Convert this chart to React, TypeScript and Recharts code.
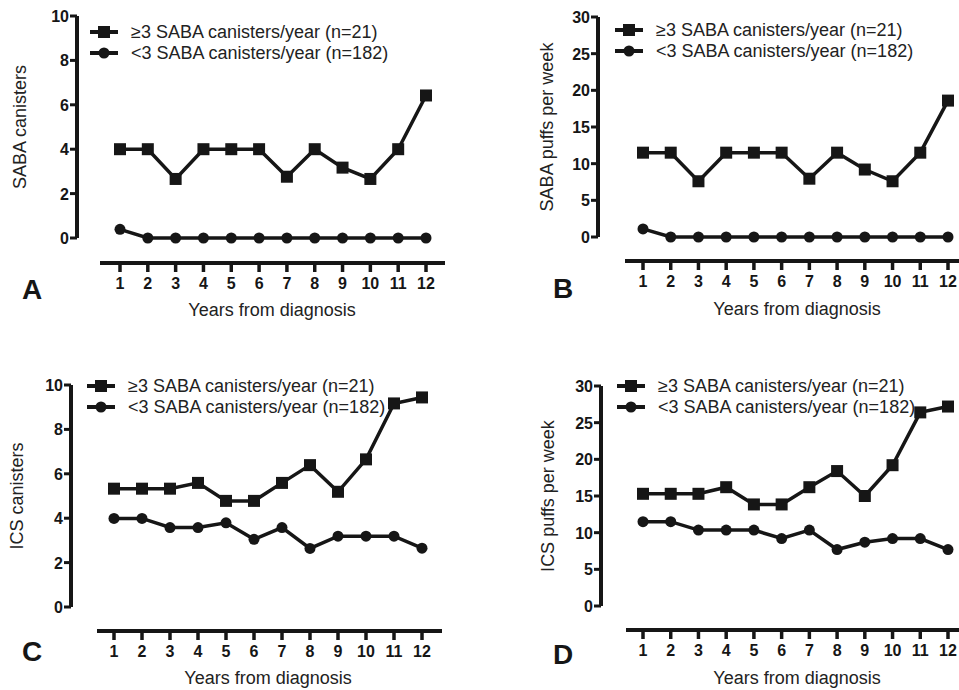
import React from 'react';
import { LineChart, Line, XAxis, YAxis, ReferenceLine } from 'recharts';

// years from diagnosis
const years = [1, 2, 3, 4, 5, 6, 7, 8, 9, 10, 11, 12];

// A: SABA canisters
const sabaCanHigh = [4, 4, 2.66, 4, 4, 4, 2.76, 4, 3.17, 2.66, 4, 6.42];
const sabaCanLow = [0.39, 0, 0, 0, 0, 0, 0, 0, 0, 0, 0, 0];

// B: SABA puffs per week
const sabaPuffHigh = [11.5, 11.5, 7.6, 11.5, 11.5, 11.5, 7.95, 11.5, 9.2, 7.6, 11.5, 18.6];
const sabaPuffLow = [1.1, 0, 0, 0, 0, 0, 0, 0, 0, 0, 0, 0];

// C: ICS canisters
const icsCanHigh = [5.33, 5.33, 5.33, 5.59, 4.78, 4.78, 5.59, 6.39, 5.19, 6.65, 9.17, 9.44];
const icsCanLow = [3.99, 3.99, 3.58, 3.58, 3.79, 3.05, 3.58, 2.64, 3.19, 3.19, 3.19, 2.65];

// D: ICS puffs per week
const icsPuffHigh = [15.3, 15.3, 15.3, 16.2, 13.85, 13.85, 16.2, 18.4, 15.0, 19.2, 26.4, 27.2];
const icsPuffLow = [11.5, 11.5, 10.35, 10.35, 10.35, 9.2, 10.35, 7.7, 8.7, 9.2, 9.2, 7.7];

const legendHigh = '≥3 SABA canisters/year (n=21)';
const legendLow = '<3 SABA canisters/year (n=182)';

const INK = '#161616';
const FONT = '"Liberation Sans", Arial, Helvetica, sans-serif';

interface Geo {
  left: number;
  top: number;
  width: number;
  height: number;
  axisX: number;
  yTop: number;
  y0: number;
  yMax: number;
  yStep: number;
  xAxisY: number;
  xLineStart: number;
  xLineEnd: number;
  tick1: number;
  tick12: number;
}

interface PanelProps {
  geo: Geo;
  high: number[];
  low: number[];
}

const SquareDot = (props: any) => {
  const { cx, cy, index } = props;
  if (cx == null || cy == null) return null;
  return <rect key={index} x={cx - 6} y={cy - 6} width={12} height={12} fill={INK} />;
};

const YTick = (props: any) => {
  const { x, y, payload } = props;
  return (
    <g>
      <line x1={x - 7} y1={y} x2={x} y2={y} stroke={INK} strokeWidth={3} />
      <text x={x - 8} y={y} dy={6} textAnchor="end" fontSize={16} fontWeight={700} fill={INK} fontFamily={FONT}>
        {payload.value}
      </text>
    </g>
  );
};

const XTick = (props: any) => {
  const { x, y, payload } = props;
  return (
    <g>
      <line x1={x} y1={y} x2={x} y2={y + 9} stroke={INK} strokeWidth={3.5} />
      <text x={x} y={y + 26} textAnchor="middle" fontSize={16} fontWeight={700} fill={INK} fontFamily={FONT}>
        {payload.value}
      </text>
    </g>
  );
};

const AxisLine = (props: any) => (
  <line x1={props.x1} y1={props.y1} x2={props.x2} y2={props.y2} stroke={INK} strokeWidth={4} />
);

// GraphPad-style detached axes: y line runs 0..max, x line sits below 0
const Panel: React.FC<PanelProps> = ({ geo, high, low }) => {
  const data = years.map((y, i) => ({ year: y, high: high[i], low: low[i] }));
  const xAxisH = 40;

  const xUnit = (geo.tick12 - geo.tick1) / 11;
  const toX = (px: number) => 1 + (px - geo.tick1) / xUnit;
  const xMin = toX(geo.axisX);
  const xMax = toX(geo.xLineEnd);
  const xStart = toX(geo.xLineStart);

  const yUnit = (geo.y0 - geo.yTop) / geo.yMax;
  const yMin = -(geo.xAxisY - geo.y0) / yUnit;

  const yTicks: number[] = [];
  for (let v = 0; v <= geo.yMax; v += geo.yStep) yTicks.push(v);

  const margin = {
    top: geo.yTop - geo.top,
    left: 0,
    right: geo.left + geo.width - geo.xLineEnd,
    bottom: geo.top + geo.height - geo.xAxisY - xAxisH,
  };

  return (
    <div style={{ position: 'absolute', left: geo.left, top: geo.top }}>
      <LineChart width={geo.width} height={geo.height} data={data} margin={margin}>
        <XAxis
          dataKey="year"
          type="number"
          domain={[xMin, xMax]}
          ticks={years}
          allowDataOverflow
          axisLine={false}
          tickLine={false}
          tickSize={0}
          tickMargin={0}
          height={xAxisH}
          tick={XTick}
          interval={0}
        />
        <YAxis
          type="number"
          domain={[yMin, geo.yMax]}
          ticks={yTicks}
          allowDataOverflow
          axisLine={false}
          tickLine={false}
          tickSize={0}
          tickMargin={0}
          width={geo.axisX - geo.left}
          tick={YTick}
          interval={0}
        />
        <ReferenceLine
          segment={[{ x: xMin, y: 0 }, { x: xMin, y: geo.yMax }]}
          shape={AxisLine}
          ifOverflow="visible"
        />
        <ReferenceLine
          segment={[{ x: xStart, y: yMin }, { x: xMax, y: yMin }]}
          shape={AxisLine}
          ifOverflow="visible"
        />
        <Line dataKey="high" stroke={INK} strokeWidth={3.5} dot={SquareDot} isAnimationActive={false} />
        <Line
          dataKey="low"
          stroke={INK}
          strokeWidth={3.5}
          dot={{ r: 5.5, fill: INK, stroke: 'none' }}
          isAnimationActive={false}
        />
      </LineChart>
    </div>
  );
};

const LegendRow: React.FC<{ x: number; y: number; square: boolean; label: string }> = ({ x, y, square, label }) => (
  <div
    style={{
      position: 'absolute',
      left: x,
      top: y - 11,
      height: 22,
      display: 'flex',
      alignItems: 'center',
      whiteSpace: 'nowrap',
      fontSize: 18,
      color: '#222',
    }}
  >
    <svg width={28} height={14} style={{ marginRight: 13 }}>
      <line x1={0} y1={7} x2={28} y2={7} stroke={INK} strokeWidth={4} />
      {square ? <rect x={8} y={1} width={12} height={12} fill={INK} /> : <circle cx={14} cy={7} r={5.5} fill={INK} />}
    </svg>
    <span>{label}</span>
  </div>
);

const Centered: React.FC<{ x: number; y: number; rotate?: boolean; style?: React.CSSProperties; children: React.ReactNode }> = ({
  x,
  y,
  rotate,
  style,
  children,
}) => (
  <div
    style={{
      position: 'absolute',
      left: x,
      top: y,
      transform: `translate(-50%, -50%)${rotate ? ' rotate(-90deg)' : ''}`,
      whiteSpace: 'nowrap',
      lineHeight: 1,
      ...style,
    }}
  >
    {children}
  </div>
);

const geoA: Geo = { left: 0, top: 0, width: 480, height: 345, axisX: 77, yTop: 16, y0: 238, yMax: 10, yStep: 2, xAxisY: 263, xLineStart: 100, xLineEnd: 445, tick1: 120, tick12: 426 };
const geoB: Geo = { left: 480, top: 0, width: 479, height: 345, axisX: 598, yTop: 17, y0: 237, yMax: 30, yStep: 5, xAxisY: 261, xLineStart: 625, xLineEnd: 959, tick1: 643, tick12: 948 };
const geoC: Geo = { left: 0, top: 345, width: 480, height: 345, axisX: 71, yTop: 385, y0: 607, yMax: 10, yStep: 2, xAxisY: 631, xLineStart: 97, xLineEnd: 442, tick1: 114, tick12: 422 };
const geoD: Geo = { left: 480, top: 345, width: 479, height: 345, axisX: 601, yTop: 386, y0: 606, yMax: 30, yStep: 5, xAxisY: 630, xLineStart: 626, xLineEnd: 959, tick1: 643, tick12: 948 };

const titleStyle: React.CSSProperties = { fontSize: 18, color: '#222' };
const letterStyle: React.CSSProperties = { fontSize: 28, fontWeight: 700, color: INK };

export default function App() {
  return (
    <div
      style={{
        position: 'absolute',
        left: 0,
        top: 0,
        width: 959,
        height: 690,
        background: '#fff',
        fontFamily: FONT,
        overflow: 'hidden',
      }}
    >
      <Panel geo={geoA} high={sabaCanHigh} low={sabaCanLow} />
      <Panel geo={geoB} high={sabaPuffHigh} low={sabaPuffLow} />
      <Panel geo={geoC} high={icsCanHigh} low={icsCanLow} />
      <Panel geo={geoD} high={icsPuffHigh} low={icsPuffLow} />

      <LegendRow x={90} y={32} square label={legendHigh} />
      <LegendRow x={90} y={53} square={false} label={legendLow} />
      <LegendRow x={615} y={30} square label={legendHigh} />
      <LegendRow x={615} y={51} square={false} label={legendLow} />
      <LegendRow x={87} y={386} square label={legendHigh} />
      <LegendRow x={87} y={407} square={false} label={legendLow} />
      <LegendRow x={617} y={386} square label={legendHigh} />
      <LegendRow x={617} y={407} square={false} label={legendLow} />

      <Centered x={20} y={127} rotate style={titleStyle}>SABA canisters</Centered>
      <Centered x={547} y={127} rotate style={titleStyle}>SABA puffs per week</Centered>
      <Centered x={17} y={496} rotate style={titleStyle}>ICS canisters</Centered>
      <Centered x={548} y={496} rotate style={titleStyle}>ICS puffs per week</Centered>

      <Centered x={272} y={310} style={titleStyle}>Years from diagnosis</Centered>
      <Centered x={797} y={309} style={titleStyle}>Years from diagnosis</Centered>
      <Centered x={268} y={678} style={titleStyle}>Years from diagnosis</Centered>
      <Centered x={797} y={678} style={titleStyle}>Years from diagnosis</Centered>

      <Centered x={32} y={290} style={letterStyle}>A</Centered>
      <Centered x={563} y={289} style={letterStyle}>B</Centered>
      <Centered x={32} y={652} style={letterStyle}>C</Centered>
      <Centered x={563} y={655} style={letterStyle}>D</Centered>
    </div>
  );
}
